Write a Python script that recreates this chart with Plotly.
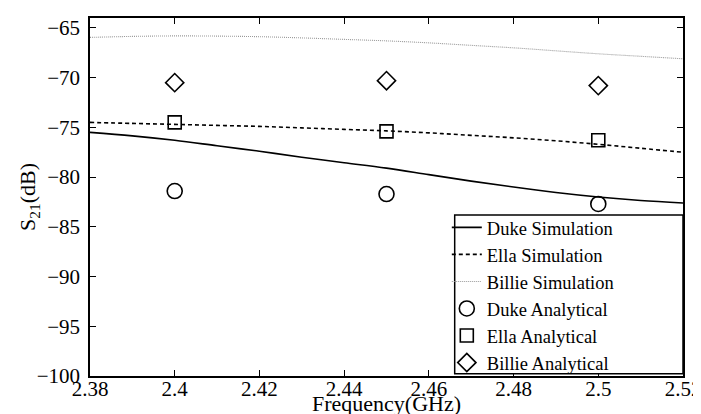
import plotly.graph_objects as go

freq_sim = [2.38, 2.39, 2.40, 2.41, 2.42, 2.43, 2.44, 2.45, 2.46, 2.47, 2.48, 2.49, 2.50, 2.51, 2.52]
duke_sim = [-75.5, -75.85, -76.3, -76.85, -77.4, -78.0, -78.55, -79.1, -79.75, -80.4, -81.0, -81.55, -82.0, -82.35, -82.6]
ella_sim = [-74.5, -74.6, -74.7, -74.8, -74.9, -75.05, -75.2, -75.35, -75.55, -75.8, -76.05, -76.35, -76.7, -77.1, -77.5]
billie_sim = [-65.95, -65.85, -65.8, -65.82, -65.88, -66.0, -66.15, -66.3, -66.5, -66.75, -67.0, -67.3, -67.6, -67.85, -68.1]

freq_an = [2.40, 2.45, 2.50]
duke_an = [-81.4, -81.7, -82.7]
ella_an = [-74.5, -75.4, -76.3]
billie_an = [-70.5, -70.3, -70.8]

x_ticks = [2.38, 2.40, 2.42, 2.44, 2.46, 2.48, 2.50, 2.52]
x_tick_text = ["2.38", "2.4", "2.42", "2.44", "2.46", "2.48", "2.5", "2.52"]
y_ticks = [-100, -95, -90, -85, -80, -75, -70, -65]

FONT = "Liberation Serif, Times New Roman, serif"

fig = go.Figure()
fig.add_trace(go.Scatter(x=freq_sim, y=duke_sim, mode="lines", name="Duke Simulation",
                         line=dict(color="black", width=1.6, shape="spline")))
fig.add_trace(go.Scatter(x=freq_sim, y=ella_sim, mode="lines", name="Ella Simulation",
                         line=dict(color="black", width=1.6, dash="4px,3px", shape="spline")))
fig.add_trace(go.Scatter(x=freq_sim, y=billie_sim, mode="lines", name="Billie Simulation",
                         line=dict(color="#999999", width=1.1, dash="1px,1px", shape="spline")))
fig.add_trace(go.Scatter(x=freq_an, y=duke_an, mode="markers", name="Duke Analytical",
                         marker=dict(symbol="circle-open", size=15, color="black", line=dict(width=1.6))))
fig.add_trace(go.Scatter(x=freq_an, y=ella_an, mode="markers", name="Ella Analytical",
                         marker=dict(symbol="square-open", size=13, color="black", line=dict(width=1.6))))
fig.add_trace(go.Scatter(x=freq_an, y=billie_an, mode="markers", name="Billie Analytical",
                         marker=dict(symbol="diamond-open", size=14, color="black", line=dict(width=1.6))))

# legend frame (MATLAB-style box spanning to the right axis)
fig.add_shape(type="rect", xref="paper", yref="paper",
              x0=0.615, x1=1.0, y0=0.006, y1=0.45,
              line=dict(color="black", width=1.5), fillcolor="white", layer="above")

fig.update_layout(
    width=701, height=414,
    margin=dict(l=82, r=19, t=8, b=46),
    paper_bgcolor="white", plot_bgcolor="white",
    font=dict(family=FONT, size=21, color="black"),
    showlegend=True,
    legend=dict(x=0.6017, y=0.467, xanchor="left", yanchor="top",
                bgcolor="rgba(0,0,0,0)", borderwidth=0,
                font=dict(family=FONT, size=18.5), itemwidth=30,
                tracegroupgap=0),
    annotations=[
        dict(text="Frequency(GHz)", xref="paper", yref="paper", x=0.5, y=0,
             xanchor="center", yanchor="top", yshift=-13, showarrow=False,
             font=dict(family=FONT, size=22)),
        dict(text="S<sub>21</sub>(dB)", xref="paper", yref="paper", x=0, y=0.5,
             xanchor="center", yanchor="middle", xshift=-61, textangle=-90, showarrow=False,
             font=dict(family=FONT, size=22)),
    ],
)
fig.update_xaxes(
    range=[2.38, 2.52], tickvals=x_ticks, ticktext=x_tick_text,
    showgrid=False, zeroline=False, showline=True, linecolor="black", linewidth=1.5,
    mirror="ticks", ticks="inside", ticklen=6, tickcolor="black", tickwidth=1,
    tickfont=dict(family=FONT, size=21), ticklabelstandoff=-7,
)
fig.update_yaxes(
    range=[-100, -64], tickvals=y_ticks,
    showgrid=False, zeroline=False, showline=True, linecolor="black", linewidth=1.5,
    mirror="ticks", ticks="inside", ticklen=6, tickcolor="black", tickwidth=1,
    tickfont=dict(family=FONT, size=21), ticklabelstandoff=4,
)

fig.write_html("out.html")
